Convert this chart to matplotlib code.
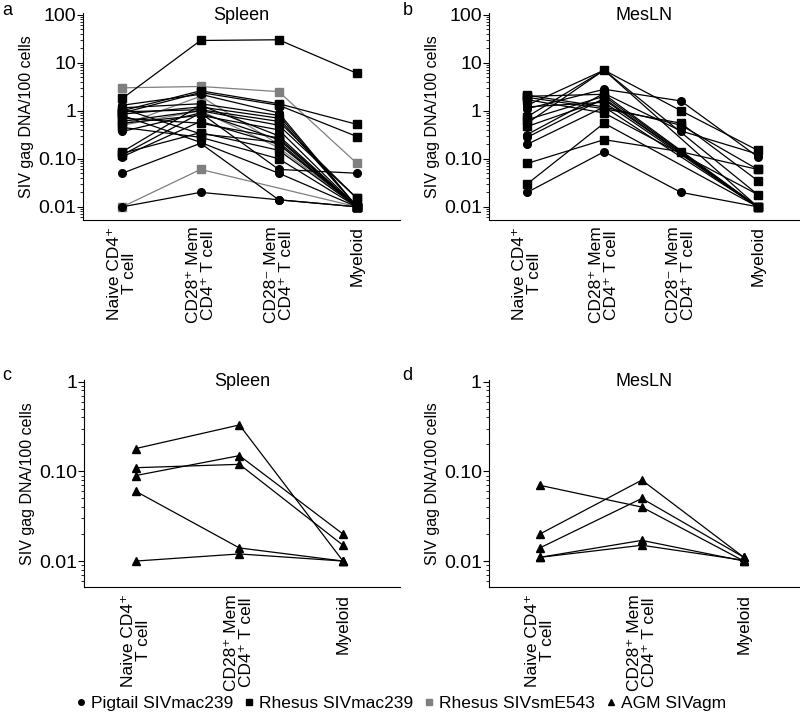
import numpy as np
import matplotlib
matplotlib.use('Agg')
import matplotlib.pyplot as plt
from matplotlib.ticker import FixedLocator, LogLocator, NullFormatter
from matplotlib.lines import Line2D

plt.rcParams['font.family'] = ['Liberation Sans', 'DejaVu Sans']

nan = np.nan
cats4 = ['Naive CD4\u207a\nT cell', 'CD28\u207a Mem\nCD4\u207a T cell',
         'CD28\u207b Mem\nCD4\u207a T cell', 'Myeloid']
cats3 = ['Naive CD4\u207a\nT cell', 'CD28\u207a Mem\nCD4\u207a T cell', 'Myeloid']

# P = Pigtail SIVmac239, R = Rhesus SIVmac239, S = Rhesus SIVsmE543, A = AGM SIVagm
spleen_kind = ['R', 'S', 'R', 'R', 'P', 'P', 'R', 'S', 'S', 'P', 'R', 'R',
               'R', 'P', 'R', 'R', 'P', 'P', 'S', 'P', 'R', 'R', 'P', 'R']
spleen_vals = [
    [1.8, 29, 30, 6.0],
    [3.0, 3.2, 2.5, 0.08],
    [1.0, 2.6, 1.4, 0.52],
    [0.9, 2.4, 1.3, 0.29],
    [1.3, 2.2, 0.9, 0.01],
    [1.15, 1.4, 0.8, 0.01],
    [0.85, 1.2, 0.7, 0.01],
    [0.5, 2.0, 0.2, 0.01],
    [0.5, 1.0, 0.17, 0.01],
    [0.37, 0.9, 0.06, 0.05],
    [0.6, 1.0, 0.5, 0.015],
    [0.14, 1.3, 0.3, 0.01],
    [0.12, 0.9, 0.25, 0.01],
    [0.11, 0.6, 0.2, 0.01],
    [0.13, 0.35, 0.15, 0.01],
    [0.45, 0.28, 0.1, 0.01],
    [0.05, 0.21, 0.014, 0.01],
    [0.01, 0.02, 0.014, 0.01],
    [0.01, 0.06, nan, 0.01],
    [0.8, 0.22, 0.05, 0.01],
    [0.7, 0.55, 0.27, 0.01],
    [1.1, 0.33, 0.22, 0.01],
    [0.55, 0.8, 0.4, 0.01],
    [0.95, 1.05, 0.6, 0.015],
]

mesln_kind = ['P', 'R', 'P', 'P', 'R', 'R', 'P', 'R', 'R', 'P', 'P', 'R',
              'R', 'P', 'R', 'R', 'P']
mesln_vals = [
    [1.3, 7.0, nan, 0.018],
    [0.75, 7.0, 1.0, 0.15],
    [0.55, 7.0, nan, 0.01],
    [1.1, 2.8, 1.6, 0.11],
    [1.9, 1.1, 0.55, 0.035],
    [2.1, 1.2, 0.5, 0.06],
    [0.32, 2.3, 0.38, 0.125],
    [0.65, 2.0, nan, 0.01],
    [0.47, 1.7, nan, 0.01],
    [0.28, 1.8, nan, 0.01],
    [0.2, 1.2, nan, 0.01],
    [0.08, 0.25, 0.14, 0.06],
    [0.03, 0.55, nan, 0.01],
    [0.02, 0.14, 0.02, 0.01],
    [1.7, 0.9, nan, 0.018],
    [2.0, 2.2, nan, 0.01],
    [1.2, 1.5, nan, 0.01],
]

agm_spleen = [
    [0.18, 0.33, 0.01],
    [0.11, 0.12, 0.015],
    [0.09, 0.15, 0.02],
    [0.06, 0.014, 0.01],
    [0.01, 0.012, 0.01],
]
agm_mesln = [
    [0.07, 0.04, 0.01],
    [0.02, 0.08, 0.011],
    [0.014, 0.05, 0.011],
    [0.011, 0.017, 0.01],
    [0.011, 0.015, 0.0102],
]

style = {'P': ('o', 'black', 5.5), 'R': ('s', 'black', 5.5),
         'S': ('s', '#7f7f7f', 6.0), 'A': ('^', 'black', 5.5)}
legend_names = {'P': 'Pigtail SIVmac239', 'R': 'Rhesus SIVmac239',
                'S': 'Rhesus SIVsmE543', 'A': 'AGM SIVagm'}

fig = plt.figure(figsize=(8, 7.25), dpi=100)
ax_a = fig.add_axes([0.104, 0.697, 0.396, 0.285])
ax_b = fig.add_axes([0.611, 0.697, 0.389, 0.285])
ax_c = fig.add_axes([0.105, 0.190, 0.395, 0.286])
ax_d = fig.add_axes([0.611, 0.190, 0.389, 0.286])


def draw(ax, vals, kinds, cats, title, ylim, majors, majlabels):
    for v, k in zip(vals, kinds):
        v = np.array(v, dtype=float)
        x = np.arange(len(v))
        m = ~np.isnan(v)
        mk, c, ms = style[k]
        ax.plot(x[m], v[m], color=c, lw=0.9, marker=mk, ms=ms,
                mfc=c, mec=c, zorder=3 if k != 'S' else 2)
    ax.set_yscale('log')
    ax.set_ylim(*ylim)
    ax.set_xlim(-0.5, len(cats) - 0.45)
    ax.yaxis.set_major_locator(FixedLocator(majors))
    ax.set_yticklabels(majlabels)
    ax.yaxis.set_minor_locator(LogLocator(base=10, subs=np.arange(2, 10)))
    ax.yaxis.set_minor_formatter(NullFormatter())
    ax.tick_params(axis='y', which='major', length=4, width=0.8, labelsize=14, pad=1)
    ax.tick_params(axis='y', which='minor', length=2, width=0.6)
    ax.set_xticks(range(len(cats)))
    ax.set_xticklabels([])
    ax.tick_params(axis='x', length=0)
    # category labels drawn as rotated, centre-aligned text just under the axis
    for i, lab in enumerate(cats):
        ax.annotate(lab, xy=(i, 0), xycoords=('data', 'axes fraction'),
                    xytext=(0, -5), textcoords='offset points', rotation=90,
                    ha='center', va='top', multialignment='center',
                    fontsize=12.5, linespacing=1.0)
    ax.spines['top'].set_visible(False)
    ax.spines['right'].set_visible(False)
    ax.set_ylabel('SIV gag DNA/100 cells', fontsize=11.5, labelpad=3)
    ax.text(0.5, 0.99, title, transform=ax.transAxes, fontsize=13,
            ha='center', va='center')


draw(ax_a, spleen_vals, spleen_kind, cats4, 'Spleen', (0.0054, 108),
     [0.01, 0.1, 1, 10, 100], ['0.01', '0.10', '1', '10', '100'])
draw(ax_b, mesln_vals, mesln_kind, cats4, 'MesLN', (0.0054, 108),
     [0.01, 0.1, 1, 10, 100], ['0.01', '0.10', '1', '10', '100'])
draw(ax_c, agm_spleen, ['A'] * len(agm_spleen), cats3, 'Spleen', (0.0051, 1.05),
     [0.01, 0.1, 1], ['0.01', '0.10', '1'])
draw(ax_d, agm_mesln, ['A'] * len(agm_mesln), cats3, 'MesLN', (0.0051, 1.05),
     [0.01, 0.1, 1], ['0.01', '0.10', '1'])

for lab, x, y in [('a', 0.003, 0.985), ('b', 0.503, 0.985),
                  ('c', 0.003, 0.482), ('d', 0.503, 0.482)]:
    fig.text(x, y, lab, fontsize=13, va='center', ha='left')

handles = []
for k in ['P', 'R', 'S', 'A']:
    mk, c, ms = style[k]
    handles.append(Line2D([], [], ls='none', marker=mk, color=c, mfc=c, mec=c,
                          ms=4, label=legend_names[k]))
fig.legend(handles=handles, loc='center', bbox_to_anchor=(0.5, 0.03), ncol=4,
           frameon=False, fontsize=12.5, handletextpad=0.2, columnspacing=0.5,
           handlelength=0.8)

fig.savefig('out.png', dpi=100)
